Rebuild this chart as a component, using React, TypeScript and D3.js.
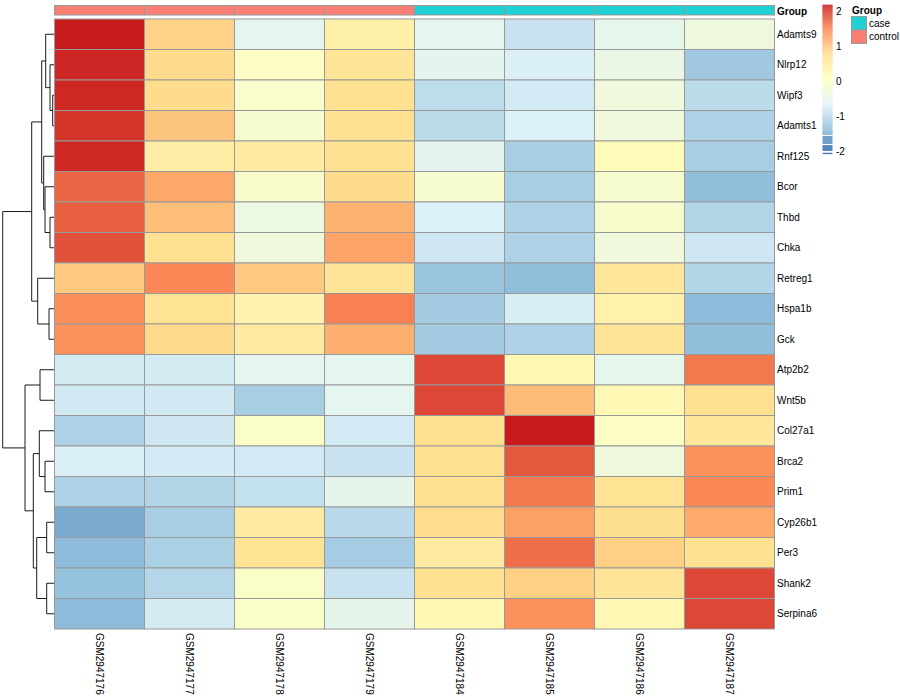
import React from "react";
import * as d3 from "d3";

const genes = ["Adamts9","Nlrp12","Wipf3","Adamts1","Rnf125","Bcor","Thbd","Chka","Retreg1","Hspa1b","Gck","Atp2b2","Wnt5b","Col27a1","Brca2","Prim1","Cyp26b1","Per3","Shank2","Serpina6"];
const samples = ["GSM2947176","GSM2947177","GSM2947178","GSM2947179","GSM2947184","GSM2947185","GSM2947186","GSM2947187"];
const sampleGroup = ["control","control","control","control","case","case","case","case"];
const groupLevels = ["case","control"];
const groupColors = ["#1FD0D5","#F97F74"];

const expr: number[][] = [
  [2.18, 0.87, -0.55, 0.39, -0.55, -0.88, -0.5, -0.35],
  [2.11, 0.81, 0.0, 0.67, -0.58, -0.72, -0.42, -1.24],
  [2.1, 0.79, -0.1, 0.74, -0.97, -0.79, -0.3, -0.99],
  [2.02, 1.0, -0.15, 0.72, -1.01, -0.7, -0.3, -1.13],
  [2.1, 0.44, 0.5, 0.72, -0.58, -1.17, 0.12, -1.17],
  [1.72, 1.24, -0.12, 0.79, -0.15, -1.17, -0.15, -1.38],
  [1.76, 1.05, -0.38, 1.15, -0.7, -1.13, -0.12, -1.08],
  [1.84, 0.74, -0.3, 1.27, -0.84, -1.13, -0.3, -0.84],
  [0.95, 1.49, 0.96, 0.67, -1.29, -1.38, 0.59, -1.08],
  [1.46, 0.69, 0.29, 1.54, -1.22, -0.74, 0.36, -1.42],
  [1.43, 0.81, 0.5, 1.18, -1.22, -1.11, 0.67, -1.38],
  [-0.78, -0.78, -0.55, -0.55, 1.9, 0.21, -0.5, 1.6],
  [-0.81, -0.81, -1.17, -0.55, 1.9, 1.07, 0.21, 0.76],
  [-1.13, -0.83, -0.05, -0.79, 0.75, 2.18, 0.0, 0.59],
  [-0.72, -0.79, -0.79, -0.88, 0.76, 1.8, -0.3, 1.43],
  [-1.13, -1.08, -0.93, -0.52, 0.72, 1.59, 0.69, 1.49],
  [-1.58, -1.17, 0.5, -1.02, 0.78, 1.3, 0.77, 1.22],
  [-1.42, -1.15, 0.69, -1.2, 0.52, 1.66, 0.89, 0.72],
  [-1.34, -1.06, -0.05, -0.88, 0.72, 0.89, 0.67, 1.9],
  [-1.42, -0.78, -0.05, -0.52, 0.21, 1.43, 0.21, 1.9],
];

// nested [left, right, height]; leaves are row indices
type Node = number | [Node, Node, number];
const rowTree: Node = [
  [
    [[0, [1, [2, 3, 1.8], 4.5], 8.8], [4, [5, [6, 7, 4.5], 9.5], 10.8], 12.8],
    [8, [9, 10, 5.5], 16.8],
    22.8,
  ],
  [[11, 12, 14.5], [[13, [14, 15, 9.5], 15.2], [[16, 17, 7.8], [18, 19, 7.8], 17.8], 21.2], 29.5],
  51.8,
];

const colorStops = [-2.09, -1.378, -0.667, 0.045, 0.757, 1.468, 2.18];
const colorRange = ["#4575B4", "#91BFDB", "#E0F3F8", "#FFFFBF", "#FEE090", "#FC8D59", "#C81B1E"];
const legendTicks = [2, 1, 0, -1, -2];
const legendBlocks: [number, number][] = [[-1.57, -1.8], [-1.83, -2.0], [-2.05, -2.09]];

const FONT = "'Liberation Sans', Arial, Helvetica, sans-serif";

export default function App() {
  const color = d3.scaleLinear<string>().domain(colorStops).range(colorRange).interpolate(d3.interpolateRgb).clamp(true);
  const x = d3.scaleBand<string>().domain(samples).range([54.5, 774.5]);
  const y = d3.scaleBand<string>().domain(genes).range([19, 629]);
  const hx = d3.scaleLinear().domain([0, 51.8]).range([54.5, 2.7]);
  const ly = d3.scaleLinear().domain([-2, 2]).range([151, 11]);

  const segs: string[] = [];
  const walk = (n: Node): [number, number] => {
    if (typeof n === "number") return [y(genes[n])! + y.bandwidth() / 2, 0];
    const [a, b, h] = n;
    const [ya, ha] = walk(a);
    const [yb, hb] = walk(b);
    const xn = hx(h);
    segs.push(`M${hx(ha)},${ya}H${xn}V${yb}H${hx(hb)}`);
    return [(ya + yb) / 2, h];
  };
  walk(rowTree);

  const gradVals = d3.range(2.18, -1.54, -0.01);

  return (
    <svg width={900} height={700} style={{ position: "absolute", left: 0, top: 0, background: "#fff" }} fontFamily={FONT}>
      <g>
        {segs.map((d, i) => (
          <path key={i} d={d} fill="none" stroke="#1a1a1a" strokeWidth={1} />
        ))}
      </g>
      <g>
        {samples.map((s, j) => (
          <rect key={s} x={x(s)} y={5.5} width={x.bandwidth()} height={9.5}
            fill={groupColors[groupLevels.indexOf(sampleGroup[j])]} stroke="#999" strokeWidth={1} />
        ))}
        <text x={777} y={14.5} fontSize={10} fontWeight="bold">Group</text>
      </g>
      <g>
        {expr.map((row, i) =>
          row.map((v, j) => (
            <rect key={`${i}-${j}`} x={x(samples[j])} y={y(genes[i])} width={x.bandwidth()} height={y.bandwidth()}
              fill={color(v)} stroke="#999" strokeWidth={1} />
          ))
        )}
      </g>
      <g fontSize={10}>
        {genes.map((g) => (
          <text key={g} x={777} y={y(g)! + y.bandwidth() / 2} dy="0.35em">{g}</text>
        ))}
        {samples.map((s) => (
          <text key={s} transform={`translate(${x(s)! + x.bandwidth() / 2},633) rotate(90)`} dy="0.35em">{s}</text>
        ))}
      </g>
      <g>
        {gradVals.map((v, i) => (
          <rect key={i} x={822.5} y={ly(v)} width={10} height={0.5} fill={color(v)} />
        ))}
        {legendBlocks.map(([a, b], i) => (
          <rect key={`b${i}`} x={822.5} y={ly(a)} width={10} height={ly(b) - ly(a)} fill={color((a + b) / 2)} />
        ))}
        {legendTicks.map((t) => (
          <text key={t} x={836} y={ly(t)} dy="0.35em" fontSize={10}>{t}</text>
        ))}
      </g>
      <g fontSize={10}>
        <text x={852} y={13.5} fontWeight="bold">Group</text>
        {groupLevels.map((g, i) => (
          <g key={g}>
            <rect x={851.5} y={16.5 + i * 13.5} width={15} height={13.5} fill={groupColors[i]} stroke="#999" strokeWidth={1} />
            <text x={869} y={16.5 + i * 13.5 + 6.75} dy="0.35em">{g}</text>
          </g>
        ))}
      </g>
    </svg>
  );
}
